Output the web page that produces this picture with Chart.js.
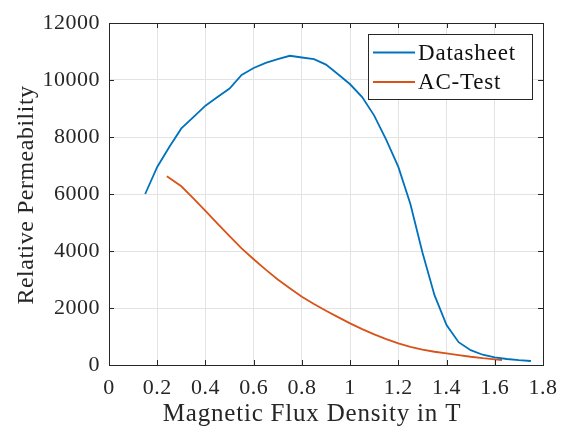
<!DOCTYPE html>
<html>
<head>
<meta charset="utf-8">
<script src="https://cdn.jsdelivr.net/npm/chart.js@4.4.1/dist/chart.umd.min.js"></script>
<style>
  body { margin: 0; background: #fff; }
  canvas { display: block; }
</style>
</head>
<body>
<canvas id="myChart" width="561" height="433"></canvas>
<script>
// values
var datasheetB = [0.15, 0.2, 0.25, 0.3, 0.35, 0.4, 0.45, 0.5, 0.55, 0.6, 0.65, 0.7, 0.75, 0.8, 0.85, 0.9, 0.95, 1.0,
    1.05, 1.1, 1.15, 1.2, 1.25, 1.3, 1.35, 1.4, 1.45, 1.5, 1.55, 1.6, 1.65, 1.7, 1.75];
var datasheetMu = [6000, 6950, 7650, 8300, 8700, 9100, 9400, 9700, 10180, 10420, 10600, 10730, 10850, 10790, 10730, 10540, 10200, 9850,
    9400, 8750, 7900, 6950, 5650, 3950, 2450, 1400, 800, 520, 360, 270, 210, 170, 140];

var acB = [0.24, 0.3, 0.35, 0.4, 0.45, 0.5, 0.55, 0.6, 0.65, 0.7, 0.75, 0.8, 0.85, 0.9, 0.95, 1.0,
    1.05, 1.1, 1.15, 1.2, 1.25, 1.3, 1.35, 1.4, 1.45, 1.5, 1.55, 1.6, 1.63];
var acMu = [6620, 6270, 5850, 5410, 4960, 4520, 4090, 3710, 3345, 3000, 2690, 2395, 2140, 1905, 1680, 1461,
    1260, 1076, 910, 760, 640, 540, 465, 410, 350, 290, 240, 200, 175];

var seriesNames = ['Datasheet', 'AC-Test'];
var xTitle = 'Magnetic Flux Density in T';
var yTitle = 'Relative Permeability';

var serif = "'Liberation Serif', 'Times New Roman', serif";
var axisColor = '#262626';

function toPoints(xs, ys) {
    return xs.map(function (x, i) { return {x: x, y: ys[i]}; });
}

// box around the axes with inward ticks, MATLAB style, plus legend and axis titles
var matlabAxes = {
    id: 'matlabAxes',
    beforeDraw: function (chart) {
        chart.ctx.letterSpacing = '0.5px';
    },
    afterDraw: function (chart) {
        var ctx = chart.ctx;
        var a = chart.chartArea;
        var xs = chart.scales.x, ys = chart.scales.y;
        var tl = 5;
        ctx.save();
        ctx.strokeStyle = axisColor;
        ctx.lineWidth = 1;
        ctx.beginPath();
        xs.ticks.forEach(function (t) {
            var px = Math.round(xs.getPixelForValue(t.value)) + 0.5;
            ctx.moveTo(px, a.bottom); ctx.lineTo(px, a.bottom - tl);
            ctx.moveTo(px, a.top); ctx.lineTo(px, a.top + tl);
        });
        ys.ticks.forEach(function (t) {
            var py = Math.round(ys.getPixelForValue(t.value)) + 0.5;
            ctx.moveTo(a.left, py); ctx.lineTo(a.left + tl, py);
            ctx.moveTo(a.right, py); ctx.lineTo(a.right - tl, py);
        });
        ctx.stroke();
        ctx.strokeRect(Math.round(a.left) + 0.5, Math.round(a.top) + 0.5,
            Math.round(a.right - a.left), Math.round(a.bottom - a.top));

        // legend, top right inside the axes
        var lx = a.right - 175, ly = a.top + 11, lw = 164, lh = 65;
        ctx.fillStyle = '#fff';
        ctx.fillRect(lx, ly, lw, lh);
        ctx.strokeRect(Math.round(lx) + 0.5, Math.round(ly) + 0.5, lw, lh);
        ctx.font = '23px ' + serif;
        ctx.textBaseline = 'middle';
        ctx.textAlign = 'left';
        ctx.letterSpacing = '0.8px';
        chart.data.datasets.forEach(function (ds, i) {
            var y = ly + 18.5 + i * 29.5;
            ctx.strokeStyle = ds.borderColor;
            ctx.lineWidth = 1.8;
            ctx.beginPath();
            ctx.moveTo(lx + 5, y); ctx.lineTo(lx + 47, y);
            ctx.stroke();
            ctx.fillStyle = '#111';
            ctx.fillText(ds.label, lx + 50, y + 1);
        });

        // axis titles
        ctx.fillStyle = axisColor;
        ctx.font = '25px ' + serif;
        ctx.textAlign = 'center';
        ctx.textBaseline = 'alphabetic';
        ctx.fillText(xTitle, (a.left + a.right) / 2 - 14, 421);
        ctx.font = '24px ' + serif;
        ctx.letterSpacing = '0.5px';
        ctx.translate(33, (a.top + a.bottom) / 2 + 1);
        ctx.rotate(-Math.PI / 2);
        ctx.fillText(yTitle, 0, 0);
        ctx.restore();
    }
};

const ctx = document.getElementById('myChart').getContext('2d');
const myChart = new Chart(ctx, {
    type: 'line',
    data: {
        datasets: [{
            label: seriesNames[0],
            data: toPoints(datasheetB, datasheetMu),
            borderColor: '#0072BD',
            backgroundColor: 'transparent',
            borderWidth: 1.8,
            pointRadius: 0,
            tension: 0
        },
            {
                label: seriesNames[1],
                data: toPoints(acB, acMu),
                borderColor: '#D95319',
                backgroundColor: 'transparent',
                borderWidth: 1.8,
                pointRadius: 0,
                tension: 0
            }]
    },
    options: {
        responsive: false,
        animation: false,
        events: [],
        layout: {
            padding: {top: 23, right: 18, left: 0, bottom: 0}
        },
        plugins: {
            legend: {display: false},
            tooltip: {enabled: false}
        },
        scales: {
            x: {
                type: 'linear',
                min: 0,
                max: 1.8,
                ticks: {
                    stepSize: 0.2,
                    padding: 10,
                    color: axisColor,
                    font: {family: serif, size: 22},
                    maxRotation: 0,
                    callback: function (v) { return String(+v.toFixed(1)); }
                },
                grid: {color: '#e3e3e3', drawTicks: false},
                border: {display: false},
                afterFit: function (scale) {
                    scale.height = 68;
                    // keep the plot box where the reference has it
                    scale.paddingLeft = 0;
                    scale.paddingRight = 0;
                }
            },
            y: {
                type: 'linear',
                min: 0,
                max: 12000,
                ticks: {
                    stepSize: 2000,
                    padding: 9,
                    color: axisColor,
                    font: {family: serif, size: 22},
                    callback: function (v) { return String(v); }
                },
                grid: {color: '#e3e3e3', drawTicks: false},
                border: {display: false},
                afterFit: function (scale) {
                    scale.width = 109;
                    scale.paddingTop = 0;
                    scale.paddingBottom = 0;
                }
            }
        }
    },
    plugins: [matlabAxes]
});
</script>
</body>
</html>
